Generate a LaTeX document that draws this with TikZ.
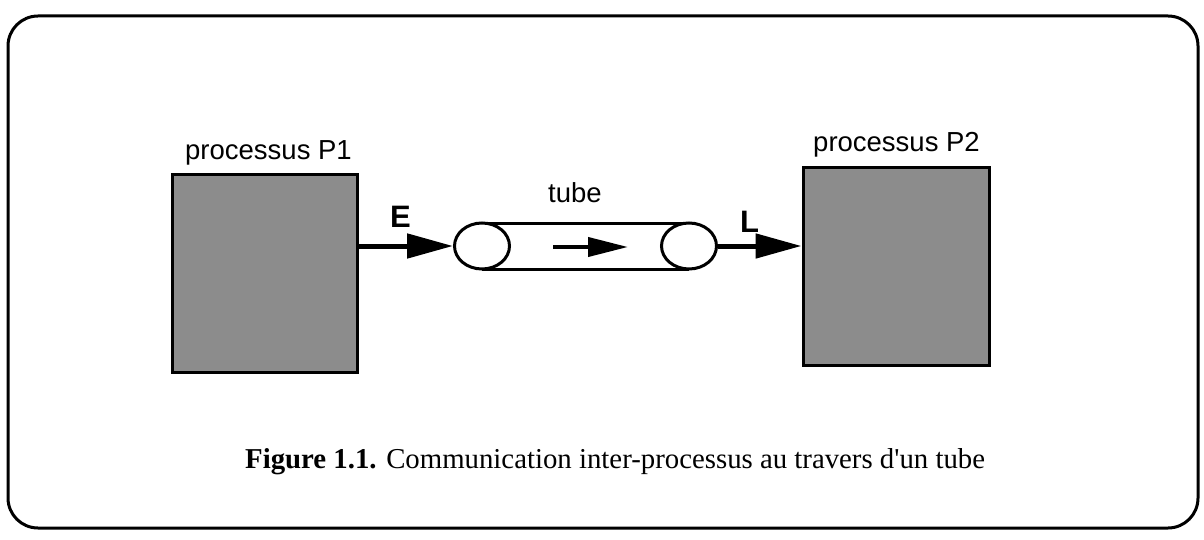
\documentclass[tikz,border=0pt]{standalone}
\usepackage{fontspec}
\setmainfont{Liberation Serif}
\newfontfamily\arialf{Liberation Sans}
\usetikzlibrary{shapes.geometric,arrows.meta}
\tikzset{
  frame/.style={line width=3pt, rounded corners=30pt},
  proc/.style={draw, line width=3pt, fill=black!45, rectangle, inner sep=0pt},
  cyl/.style={draw, ellipse, line width=3pt, fill=white, inner sep=0pt, minimum width=55pt, minimum height=46pt},
  tubeline/.style={line width=3pt},
  bigarrow/.style={line width=5pt, -{Triangle[length=46pt,width=24pt]}},
  smallarrow/.style={line width=4pt, -{Triangle[length=40pt,width=19pt]}},
  lbl/.style={font=\arialf\fontsize{27.5}{32}\selectfont, anchor=base west, inner sep=0pt},
  io/.style={font=\arialf\bfseries\fontsize{31}{36}\selectfont, anchor=base west, inner sep=0pt},
  captiontext/.style={font=\fontsize{28.8}{34}\selectfont, anchor=base west, inner sep=0pt}
}
\begin{document}
\begin{tikzpicture}[x=1pt,y=-1pt]
\useasboundingbox (0,0) rectangle (1204,540);
\draw[frame] (8,16) rectangle (1198,528);
\node[proc, minimum width=185pt, minimum height=197pt] (p1) at (264.5,273.5) {};
\node[proc, minimum width=186pt, minimum height=197pt] (p2) at (896,266.5) {};
\node[lbl] (t1) at (185,160) {processus P1};
\node[lbl] (t2) at (813,152) {processus P2};
\node[lbl] (t3) at (548,203) {tube};
\draw[tubeline] (482,223) -- (689,223);
\draw[tubeline] (482,269) -- (689,269);
\node[cyl] (e1) at (482,246) {};
\node[cyl] (e2) at (689,246) {};
\coordinate (a1) at (553,247);
\coordinate (a2) at (628,247);
\draw[smallarrow] (a1) -- (a2);
\draw[bigarrow] (p1.east |- e1.west) -- (e1.west);
\draw[bigarrow] (e2.east) -- (p2.west |- e2.east);
\node[io] (E) at (390,227) {E};
\node[io] (L) at (740,232) {L};
\node[captiontext] (c) at (245,468) {\textbf{Figure 1.1.} Communication inter-processus au travers d\textquotesingle un tube};
\end{tikzpicture}
\end{document}
